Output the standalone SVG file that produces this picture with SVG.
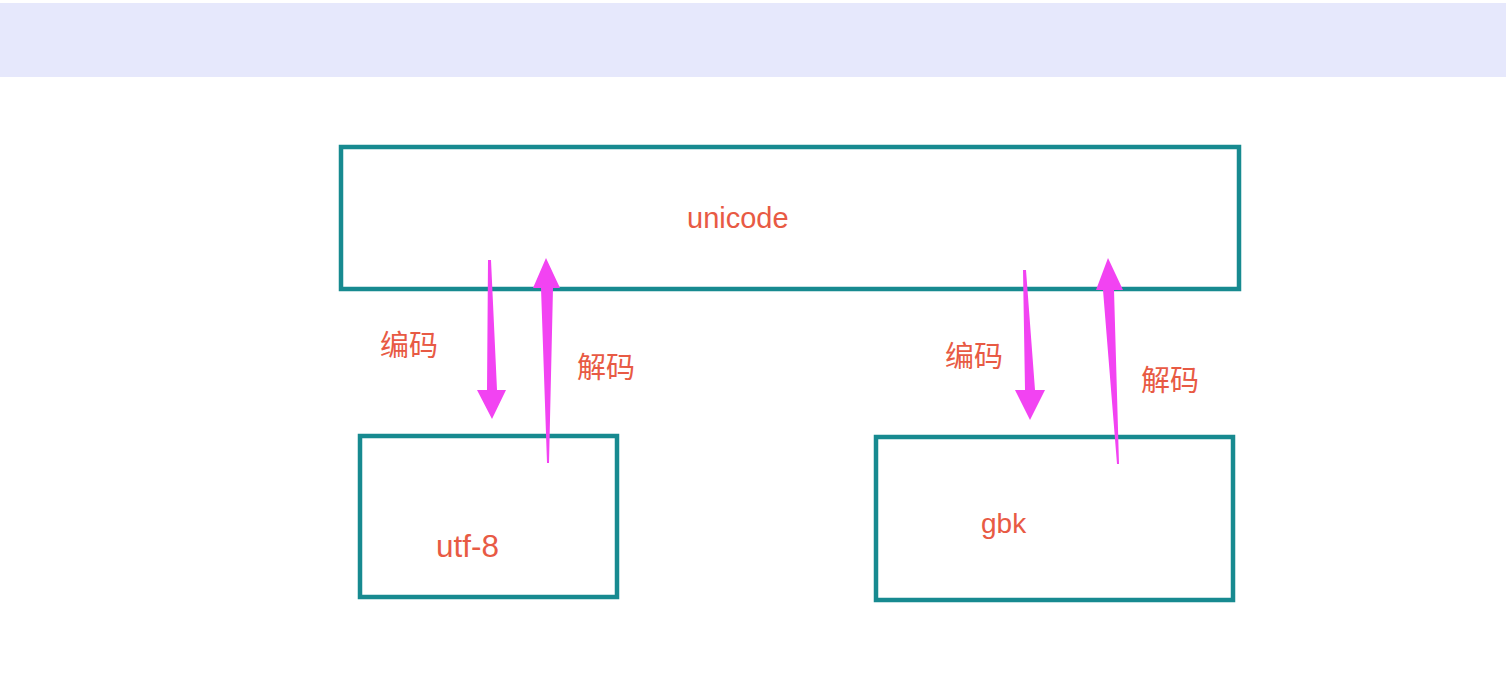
<svg xmlns="http://www.w3.org/2000/svg" width="1506" height="680" viewBox="0 0 1506 680">
<style>
.box{fill:#ffffff;stroke:#178a90;stroke-width:4.5}
.lbl{fill:#e85a44;font-family:"Liberation Sans",Arial,sans-serif}
.cjk{fill:#e85a44;font-family:"Noto Sans CJK SC",sans-serif;font-size:29px}
.arr{fill:#f243f2}
</style>
<rect x="0" y="0" width="1506" height="680" fill="#ffffff"/>
<rect x="0" y="3" width="1506" height="74" fill="#e6e8fc"/>
<g id="node-unicode">
<rect class="box" x="341" y="147" width="898" height="142"/>
<text class="lbl" x="687" y="228" font-size="29">unicode</text>
</g>
<g id="node-utf8">
<rect class="box" x="360" y="436" width="257" height="161"/>
<text class="lbl" x="436" y="557" font-size="31.5">utf-8</text>
</g>
<g id="node-gbk">
<rect class="box" x="876" y="437" width="357" height="163"/>
<text class="lbl" x="981" y="533" font-size="28">gbk</text>
</g>
<g id="connectors">
<polygon class="arr" points="488,260 491,260 497,390 506,390 492,419 477,390 487,390"/>
<polygon class="arr" points="546,258 560,288 553,288 549,463 547,463 541,288 533,288"/>
<polygon class="arr" points="1023,270 1026,270 1035,390 1045,390 1030,420 1015,390 1025,390"/>
<polygon class="arr" points="1108,258 1123,290 1114,290 1119,464 1117,464 1103,290 1096,290"/>
<text class="cjk" x="380" y="356">编码</text>
<text class="cjk" x="577" y="378">解码</text>
<text class="cjk" x="945" y="367">编码</text>
<text class="cjk" x="1141" y="391">解码</text>
</g>
</svg>
